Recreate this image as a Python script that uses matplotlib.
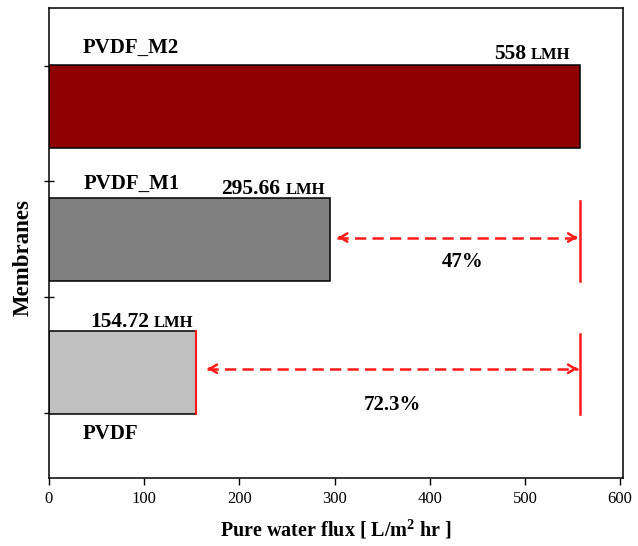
import matplotlib
matplotlib.use("Agg")
import matplotlib.pyplot as plt

membranes = ["PVDF", "PVDF_M1", "PVDF_M2"]
flux = [154.72, 295.66, 558]
flux_labels = ["154.72", "295.66", "558"]
colors = ["#c0c0c0", "#808080", "#8f0000"]
reductions = ["72.3%", "47%"]
ypos = [1, 2, 3]
yticks = [0.697, 1.566, 2.442, 3.303]
xticks = [0, 100, 200, 300, 400, 500, 600]

plt.rcParams['font.family'] = ['Liberation Serif', 'DejaVu Serif']
plt.rcParams['mathtext.fontset'] = 'custom'
plt.rcParams['mathtext.rm'] = 'Liberation Serif:bold'
plt.rcParams['mathtext.bf'] = 'Liberation Serif:bold'

fig = plt.figure(figsize=(6.38, 5.46), dpi=100)
ax = fig.add_axes([0.0768, 0.1245, 0.8997, 0.8608])

h = 0.624
ax.barh(ypos, flux, height=h, color=colors, edgecolor="black", linewidth=1.1, zorder=2)

ax.set_xlim(0, 603)
ax.set_ylim(0.2097, 3.738)
ax.set_xticks(xticks)
ax.set_yticks(yticks)
ax.set_yticklabels([])
ax.tick_params(axis='y', direction='inout', length=7, width=1)
ax.tick_params(axis='x', direction='out', length=5, width=1, labelsize=12, pad=4)
for s in ax.spines.values():
    s.set_linewidth(1.1)

ax.set_xlabel("Pure water flux [ L/m$^{\\mathbf{2}}$ hr ]", fontsize=14.5, fontweight='bold', labelpad=8)
ax.set_ylabel("Membranes", fontsize=16.5, fontweight='bold')
ax.yaxis.set_label_coords(-0.027, 0.47)

bold = dict(fontweight='bold', fontsize=15)
# membrane name labels
ax.text(35, ypos[2] + h/2 + 0.05, membranes[2], ha='left', va='bottom', **bold)
ax.text(36, ypos[1] + h/2 + 0.03, membranes[1], ha='left', va='bottom', **bold)
ax.text(35, ypos[0] - h/2 - 0.07, membranes[0], ha='left', va='top', **bold)

fig.canvas.draw()
r = fig.canvas.get_renderer()
inv = ax.transData.inverted()

def place_value(xleft_data, y, val, right=None):
    t1 = ax.text(xleft_data, y, val, ha='left', va='baseline', fontweight='bold', fontsize=15.5)
    bb = t1.get_window_extent(r)
    xend = inv.transform((bb.x1 + 5, 0))[0]
    t2 = ax.text(xend, y, "LMH", ha='left', va='baseline', fontweight='bold', fontsize=12)
    if right is not None:
        bb2 = t2.get_window_extent(r)
        shift = right - inv.transform((bb2.x1, 0))[0]
        t1.set_x(t1.get_position()[0] + shift)
        t2.set_x(t2.get_position()[0] + shift)

place_value(0, ypos[2] + h/2 + 0.045, flux_labels[2], right=548)
place_value(181, ypos[1] + h/2 + 0.03, flux_labels[1])
place_value(43, ypos[0] + h/2 + 0.03, flux_labels[0])

# red reference lines
red = "#ff1a1a"
ref = flux[2]
ax.plot([flux[0], flux[0]], [ypos[0] - h/2, ypos[0] + h/2], color=red, lw=1.5, zorder=3)
for yy in [ypos[0], ypos[1]]:
    ax.plot([ref, ref], [yy - h/2, yy + h/2 - 0.02], color=red, lw=1.8, zorder=3)

arrow_y = [ypos[0] + 0.03, ypos[1] + 0.015]
arrow_x0 = [flux[0] + 9, flux[1] + 5]
for x0, yy in zip(arrow_x0, arrow_y):
    ax.plot([x0 + 2, ref - 2], [yy, yy], color=red, lw=1.8, ls=(0, (4.5, 2.5)), zorder=3)
    ax.annotate('', xy=(x0, yy), xytext=(x0 + 8, yy),
                arrowprops=dict(arrowstyle='->,head_length=0.5,head_width=0.3', color=red, lw=1.8))
    ax.annotate('', xy=(ref, yy), xytext=(ref - 8, yy),
                arrowprops=dict(arrowstyle='->,head_length=0.5,head_width=0.3', color=red, lw=1.8))

ax.text(361, ypos[0] - 0.243, reductions[0], ha='center', va='center', **bold)
ax.text(434, ypos[1] - 0.17, reductions[1], ha='center', va='center', **bold)

fig.savefig("out.png", dpi=100)
